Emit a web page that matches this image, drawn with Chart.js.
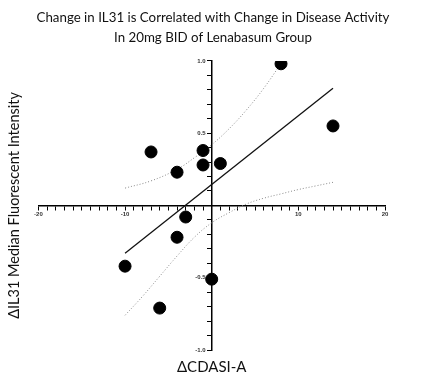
<!DOCTYPE html>
<html>
<head>
<meta charset="utf-8">
<script src="https://cdn.jsdelivr.net/npm/chart.js@4"></script>
<style>
html,body{margin:0;padding:0;background:#fff;}
#wrap{width:424px;height:380px;}
</style>
</head>
<body>
<div id="wrap"><canvas id="c" width="424" height="380"></canvas></div>
<script>
// Observed data points (ΔCDASI-A vs ΔIL31 MFI)
const pointX = [-7, -4, -1, -1, 1, 8, 14, -3, -4, -10, -6, 0];
const pointY = [0.37, 0.23, 0.38, 0.28, 0.29, 0.98, 0.55, -0.08, -0.22, -0.42, -0.71, -0.51];
// Regression line end points
const fitX = [-10, 14];
const fitY = [-0.33, 0.81];
// 95% confidence band
const upperX = [-10, -7, -4, -2, 0, 2, 4, 6, 8.2];
const upperY = [0.12, 0.17, 0.25, 0.33, 0.42, 0.53, 0.66, 0.81, 1.0];
const lowerX = [-10, -8, -6, -4, -2, 0, 2, 4, 6, 8, 10, 12, 14];
const lowerY = [-0.76, -0.63, -0.49, -0.35, -0.22, -0.12, -0.05, 0.01, 0.05, 0.08, 0.11, 0.135, 0.16];
// Axis tick labels
const xTickLabels = [-20, -10, 10, 20];
const yTickLabels = [1.0, 0.5, -0.5, -1.0];

const titleLines = ['Change in IL31 is Correlated with Change in Disease Activity', 'In 20mg BID of Lenabasum Group'];
const xTitle = 'ΔCDASI-A';
const yTitle = 'ΔIL31 Median Fluorescent Intensity';

const zip = (xs, ys) => xs.map((x, i) => ({x: x, y: ys[i]}));
const tickFont = {family: 'Liberation Sans', size: 6, weight: 'bold'};

new Chart(document.getElementById('c'), {
  type: 'scatter',
  data: {
    datasets: [
      {data: zip(pointX, pointY), backgroundColor: '#000', borderColor: '#000', pointRadius: 6, pointHoverRadius: 6, order: 0},
      {type: 'line', data: zip(fitX, fitY), borderColor: '#111', borderWidth: 1.3, pointRadius: 0, fill: false, order: 1},
      {type: 'line', data: zip(upperX, upperY), borderColor: '#8a8a8a', borderWidth: 1, borderDash: [1, 2], pointRadius: 0, fill: false, tension: 0.4, order: 2},
      {type: 'line', data: zip(lowerX, lowerY), borderColor: '#8a8a8a', borderWidth: 1, borderDash: [1, 2], pointRadius: 0, fill: false, tension: 0.4, order: 2}
    ]
  },
  options: {
    responsive: false,
    animation: false,
    layout: {padding: {left: 2, right: 0, top: 4, bottom: 2}},
    plugins: {
      legend: {display: false},
      tooltip: {enabled: false},
      title: {
        display: true,
        text: titleLines,
        color: '#111',
        font: {family: 'Lato', size: 13.3, weight: 'normal', lineHeight: 1.5},
        padding: {top: 4, bottom: 13}
      }
    },
    scales: {
      x: {
        type: 'linear', min: -20, max: 20,
        position: {y: 0},
        border: {color: '#000', width: 1.5},
        grid: {display: true, drawOnChartArea: false, drawTicks: true, tickLength: 4, color: '#000', tickWidth: 1},
        ticks: {
          stepSize: 1, autoSkip: false, maxRotation: 0, color: '#333', font: tickFont, padding: 1,
          callback: (v) => xTickLabels.includes(Math.round(v)) && Math.abs(v - Math.round(v)) < 1e-6 ? String(Math.round(v)) : ''
        }
      },
      y: {
        type: 'linear', min: -1, max: 1,
        position: {x: 0},
        border: {color: '#000', width: 1.5},
        grid: {display: true, drawOnChartArea: false, drawTicks: true, tickLength: 4, color: '#000', tickWidth: 1},
        ticks: {
          stepSize: 0.1, autoSkip: false, color: '#333', font: tickFont, padding: 1,
          callback: (v) => {
            const r = Math.round(v * 10) / 10;
            return yTickLabels.some(t => Math.abs(t - r) < 1e-6) ? r.toFixed(1) + '\u2002\u2002' : '';
          }
        }
      },
      yTitleAxis: {
        axis: 'y', type: 'linear', position: 'left', min: -1, max: 1,
        grid: {display: false}, border: {display: false}, ticks: {display: false},
        title: {display: true, text: yTitle, color: '#111', font: {family: 'Lato', size: 14.5}, padding: {top: 4, bottom: 7}}
      },
      rightSpace: {
        axis: 'y', type: 'linear', position: 'right', min: -1, max: 1,
        grid: {display: false}, border: {display: false}, ticks: {display: false},
        afterFit: (s) => { s.width = 39; }
      },
      xTitleAxis: {
        axis: 'x', type: 'linear', position: 'bottom', min: -20, max: 20,
        grid: {display: false}, border: {display: false}, ticks: {display: false},
        title: {display: true, text: xTitle, color: '#111', font: {family: 'Lato', size: 15}, padding: {top: 0, bottom: 2}}
      }
    }
  }
});
</script>
</body>
</html>
